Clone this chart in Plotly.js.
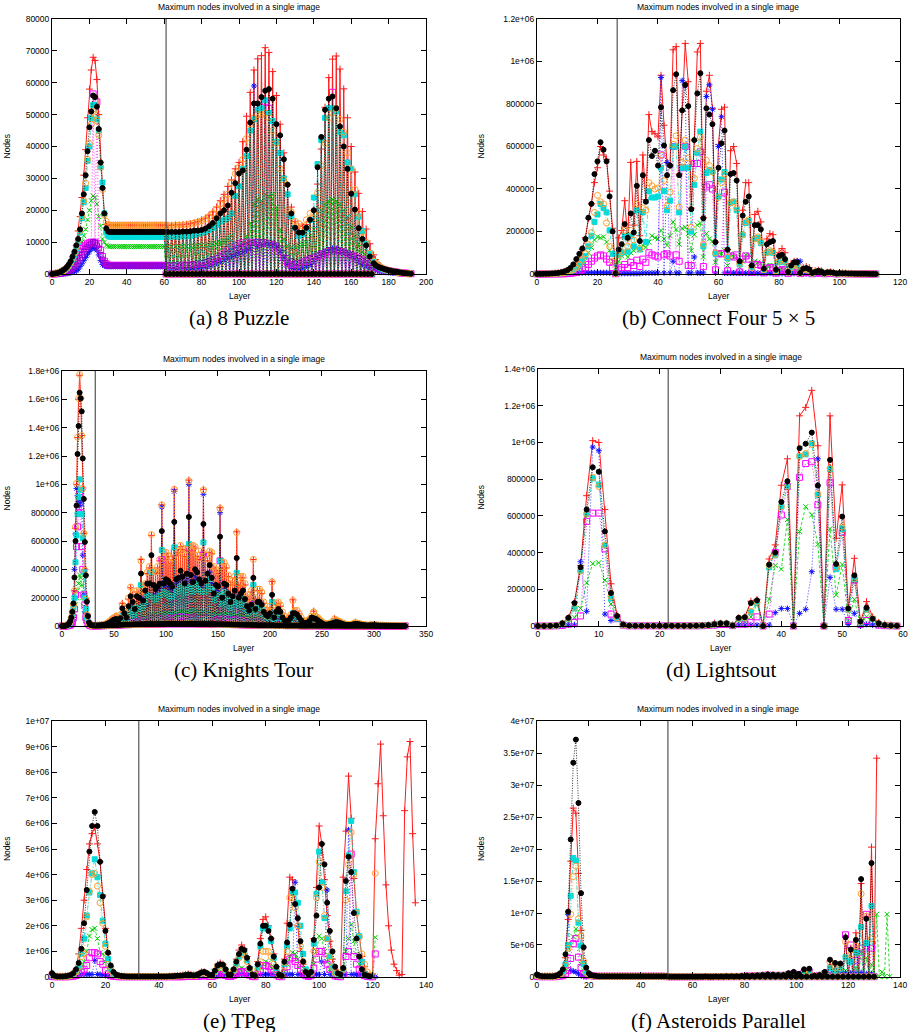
<!DOCTYPE html>
<html><head><meta charset="utf-8">
<script src="https://cdn.plot.ly/plotly-3.0.1.min.js"></script>
<style>html,body{margin:0;padding:0;background:#fff;}#chart{width:914px;height:1032px;}</style>
</head><body><div id="chart"></div>
<script>
// ================= DATA =================
const TITLE = "Maximum nodes involved in a single image";
const X_TITLE = "Layer";
const Y_TITLE = "Nodes";
const CAPTIONS = ["(a) 8 Puzzle", "(b) Connect Four 5 \u00d7 5", "(c) Knights Tour", "(d) Lightsout", "(e) TPeg", "(f) Asteroids Parallel"];
const VLINES = [61, 26.5, 32, 21.4, 32.5, 50.5];   // layer of the vertical marker line in each panel

const A_YTICKS = [0,10000,20000,30000,40000,50000,60000,70000,80000];
const A_YLABELS = ["0","10000","20000","30000","40000","50000","60000","70000","80000"];
const B_YTICKS = [0,200000,400000,600000,800000,1000000,1200000];
const B_YLABELS = ["0","200000","400000","600000","800000","1e+06","1.2e+06"];
const C_YTICKS = [0,200000,400000,600000,800000,1000000,1200000,1400000,1600000,1800000];
const C_YLABELS = ["0","200000","400000","600000","800000","1e+06","1.2e+06","1.4e+06","1.6e+06","1.8e+06"];
const D_YTICKS = [0,200000,400000,600000,800000,1000000,1200000,1400000];
const D_YLABELS = ["0","200000","400000","600000","800000","1e+06","1.2e+06","1.4e+06"];
const E_YTICKS = [0,1e6,2e6,3e6,4e6,5e6,6e6,7e6,8e6,9e6,1e7];
const E_YLABELS = ["0","1e+06","2e+06","3e+06","4e+06","5e+06","6e+06","7e+06","8e+06","9e+06","1e+07"];
const F_YTICKS = [0,5e6,1e7,1.5e7,2e7,2.5e7,3e7,3.5e7,4e7];
const F_YLABELS = ["0","5e+06","1e+07","1.5e+07","2e+07","2.5e+07","3e+07","3.5e+07","4e+07"];

// ---------- (a) 8 Puzzle, values in thousands ----------
// layers 0..60
const A_red_pre = [0.1,0.2,0.3,0.5,0.7,1.0,1.3,1.8,2.3,3.0, 4.0,5.2,6.5,9.0,13.5,18,24,31,39,49, 58,64,68,67,61,50,35,27,19,15.5,
 15.3,15.3,15.3,15.3,15.3,15.3,15.3,15.3,15.3,15.3, 15.3,15.3,15.3,15.3,15.3,15.3,15.3,15.3,15.3,15.3, 15.3,15.3,15.3,15.3,15.3,15.3,15.3,15.3,15.3,15.3,15.3];
const A_black_pre = [0,0.1,0.2,0.3,0.5,0.8,1.2,1.6,2.2,3.0, 4.0,5.5,7.0,9.0,11,14,19,25,31,38.5, 46,51,56,55.5,52.5,45.5,35,27,19,14.3,
 13.3,13.2,13.2,13.2,13.2,13.2,13.2,13.2,13.2,13.2, 13.2,13.2,13.2,13.2,13.2,13.2,13.2,13.2,13.2,13.2, 13.2,13.2,13.2,13.2,13.2,13.2,13.2,13.2,13.2,13.2,13.2];
const A_orange_pre = [0,0.1,0.2,0.3,0.5,0.7,1.0,1.4,2.0,2.7, 3.7,5.0,6.5,8.5,10.5,13.5,18,23,28.5,36, 41,47,51,50,48,43.5,33.5,26.5,18.5,16.5,
 15.5,15.3,15.3,15.3,15.3,15.3,15.3,15.3,15.3,15.3, 15.3,15.3,15.3,15.3,15.3,15.3,15.3,15.3,15.3,15.3, 15.3,15.3,15.3,15.3,15.3,15.3,15.3,15.3,15.3,15.3,15.3];
const A_cyan_pre = [0,0.1,0.2,0.3,0.4,0.6,0.9,1.3,1.8,2.5, 3.4,4.6,6.0,8.0,10,13,17.5,22.5,27,35.5, 40,49,53,53,48.5,45,33.5,28.7,19,13,
 12,11.7,11.7,11.7,11.7,11.7,11.7,11.7,11.7,11.7, 11.7,11.7,11.7,11.7,11.7,11.7,11.7,11.7,11.7,11.7, 11.7,11.7,11.7,11.7,11.7,11.7,11.7,11.7,11.7,11.7,11.7];
const A_green_pre = [0,0,0.1,0.2,0.3,0.4,0.6,0.8,1.1,1.5, 2.0,2.6,3.2,4.0,6.0,8.0,10,12,14,17, 20,23,24.5,24,22,18,15,11,10,9,
 8.7,8.6,8.6,8.6,8.6,8.6,8.6,8.6,8.6,8.6, 8.6,8.6,8.6,8.6,8.6,8.6,8.6,8.6,8.6,8.6, 8.6,8.6,8.6,8.6,8.6,8.6,8.6,8.6,8.6,8.6,8.6];
const A_magenta_pre = [0,0,0.1,0.1,0.2,0.3,0.4,0.6,0.9,1.3, 1.8,2.5,3.5,4.5,6.0,7.0,8.0,8.5,9.0,9.5, 9.8,10,56.5,10,54,9.5,7.5,5.5,4.0,3.2,
 2.8,2.7,2.7,2.7,2.7,2.7,2.7,2.7,2.7,2.7, 2.7,2.7,2.7,2.7,2.7,2.7,2.7,2.7,2.7,2.7, 2.7,2.7,2.7,2.7,2.7,2.7,2.7,2.7,2.7,2.7,2.7];
const A_blue_pre = [0,0,0,0,0,0,0.1,0.1,0.2,0.3, 0.4,0.6,0.8,1.0,1.5,2.3,3.2,4.2,5.2,6.2, 7.0,7.8,8.3,8.0,7.5,6.0,4.2,3.0,2.6,2.4,
 2.4,2.4,2.4,2.4,2.4,2.4,2.4,2.4,2.4,2.4, 2.4,2.4,2.4,2.4,2.4,2.4,2.4,2.4,2.4,2.4, 2.4,2.4,2.4,2.4,2.4,2.4,2.4,2.4,2.4,2.4,2.4];
const A_purple_pre = [0,0,0,0.1,0.1,0.2,0.3,0.4,0.6,0.9, 1.2,1.6,2.2,3.0,4.0,5.0,6.0,7.0,7.8,8.4, 9.0,9.5,10,9.8,9.0,8.0,6.0,4.5,3.5,2.8,
 2.6,2.6,2.6,2.6,2.6,2.6,2.6,2.6,2.6,2.6, 2.6,2.6,2.6,2.6,2.6,2.6,2.6,2.6,2.6,2.6, 2.6,2.6,2.6,2.6,2.6,2.6,2.6,2.6,2.6,2.6,2.6];
// even layers 62..192
const A_red_even = [15.3,15.3,15.4,15.4,15.5,15.6,15.8,16.1,16.5,17, 17.5,18.5,19.5,21,23,25,27.5,29.5,33,35,
 41.5,49.5,57,64,67.5,68.5,71,69.5,63.5,56, 47,38,28,21,16.5,15,15,15.5,17,20,
 28.2,39.2,52.3,61.6,67.4,68.4,64.3,58.1,49,40, 32,25.3,19.6,14.1,9.5,6,3.5,2.2,1.5,1.0, 0.7,0.5,0.3,0.2,0.1,0.05];
const A_black_even = [13.2,13.2,13.2,13.2,13.3,13.3,13.4,13.6,13.6,13.8, 14.2,15,16,17.5,19,20,21.5,25.5,28.5,31.5,
 32.5,39,47.5,53.5,53.5,55.5,57.5,58,55,47, 43.5,36,28,19,14.5,13,13,14.5,17,20,
 33.5,43,51.5,55,55.7,52,46.3,40,33,25.2, 20.2,14.4,11,9,5.5,3.4,2.4,1.9,1.5,1.2, 0.9,0.7,0.5,0.3,0.2,0.1];
const A_orange_even = [15.2,15.2,15.3,15.3,15.4,15.5,15.7,16,16.3,16.7, 17.2,18,19,20.3,22,23.5,25,28.5,31.5,33.5,
 36,42.5,47,49,50,50,50.5,49,45,41, 33,29.5,20,19.5,16.5,15.8,15,17,19,19,
 25.5,34,41,49,50.5,52,48.5,44.5,38,33, 26.5,19,13,10,6.5,4,2.8,2,1.5,1.1, 0.8,0.6,0.4,0.3,0.2,0.1];
const A_cyan_even = [11.7,11.7,11.7,11.8,11.8,11.9,12,12.2,12.5,12.8, 13.2,13.8,14.5,15.5,16.5,17,17.5,19,24.5,27.5,
 33,37,45,48.5,51.5,52,54.5,50.5,48,41.5, 38,30,25,18,14.5,12,12.5,14,17,24,
 34.5,42,49,52,52,51,44.5,43.5,35,33, 25,18,13.5,9.5,6.5,4,2.6,1.8,1.3,1, 0.7,0.5,0.4,0.3,0.2,0.1];
const A_green_even = [8.6,8.6,8.6,8.6,8.6,8.7,8.7,8.8,8.8,8.9, 9,9.2,9.4,9.6,10,10.5,11,12,8.5,9,
 10,12,16,22,23.5,23,25,24.5,25,21, 14,11,9,8.5,8.5,9,9.5,10,12,14,
 17,20,22,23,23.5,23,22,20,18,15, 12,9.5,7,5.5,4,3,2.2,1.6,1.2,0.9, 0.7,0.5,0.4,0.3,0.2,0.1];
const A_magenta_even = [2.7,2.7,2.7,2.7,2.8,2.8,2.9,3,3.1,3.3, 3.5,3.8,4.2,4.8,5.5,6.5,7.5,8.5,9,9.5,
 9.8,10,10,10,10,9.5,54,52,9,8.5, 7,5,3.5,3,3,3.2,3.5,4,4.5,5,
 5.5,6,6.5,7,57,7.5,7.2,7,6.5,6, 5.5,5,4.5,4,3.5,2.5,2,1.6,1.3,1, 0.8,0.6,0.4,0.3,0.2,0.1];
const A_blue_even = [1,1,1,1,1,1.2,1.4,1.6,1.8,2, 2.3,2.6,3,3.5,4,4.5,5,5.5,6,6.5,
 7,7.5,8,59,8.5,9,9.5,9.5,9,8.5, 7,5,3,2,1.5,1.5,2,2.5,3,4,
 5,6,7,7.5,8,8,7.5,7,6.5,6, 5,4,3,2.5,2,1.5,1,0.8,0.6,0.5, 0.4,0.3,0.2,0.1,0.1,0];
const A_purple_even = [2.6,2.6,2.6,2.6,2.6,2.7,2.8,3,3.2,3.5, 3.8,4.2,4.6,5,5.5,6,6.5,7,7.5,8,
 8.5,9,9.5,9.8,10,10,10,9.8,9.5,9, 8,6.5,5,4,3.5,3.5,4,4.5,5,5.5,
 6,6.5,7,7.5,7.5,7.5,7.2,7,6.5,6, 5.5,5,4.2,3.5,3,2.4,2,1.6,1.3,1, 0.8,0.6,0.4,0.3,0.2,0.1];
// odd layers 61..171 sit on the floor, then tails 173..191
const A_ZERO_RUN = [0,0,0,0,0,0,0,0,0,0, 0,0,0,0,0,0,0,0,0,0, 0,0,0,0,0,0,0,0,0,0, 0,0,0,0,0,0,0,0,0,0, 0,0,0,0,0,0,0,0,0,0, 0,0,0,0,0,0];
const A_red_oddtail = [4.5,2.8,1.8,1.2,0.85,0.6,0.4,0.25,0.15,0.08];
const A_black_oddtail = [2.8,2.1,1.7,1.3,1.0,0.8,0.6,0.4,0.25,0.15];
const A_orange_oddtail = [3.3,2.4,1.7,1.3,0.9,0.7,0.5,0.35,0.25,0.15];
const A_cyan_oddtail = [3.2,2.2,1.5,1.1,0.85,0.6,0.45,0.35,0.25,0.15];
const A_green_oddtail = [2.6,1.9,1.4,1.0,0.8,0.6,0.45,0.35,0.25,0.15];
const A_magenta_oddtail = [2.2,1.8,1.4,1.1,0.9,0.7,0.5,0.35,0.25,0.15];
const A_blue_oddtail = [1.2,0.9,0.7,0.55,0.45,0.35,0.25,0.15,0.1,0.05];
const A_purple_oddtail = [2.2,1.8,1.4,1.1,0.9,0.7,0.5,0.35,0.25,0.15];

// ---------- (b) Connect Four, layers 0..112, values in thousands ----------
const B_red = [0.5,0.8,1,1.5,2,3,4,6,8,11, 15,22,35,55,80,115,170,260,330,430, 500,600,560,540,390,215,5,170,205,345,
 165,525,230,530,180,560,350,750,670,660, 645,935,700,525,510,1055,1070,470,770,1085, 905,310,630,1045,1085,265,860,935,780,150,
 610,775,785,115,580,600,520,60,300,430, 430,40,280,295,245,25,165,190,185,20, 100,120,100,10,50,60,60,5,30,35,
 30,3,15,18,15,2,8,10,8,1, 5,5,4,3,3,2,2,1.5,1,1, 0.5,0.5,0.3];
const B_black = [0.3,0.5,0.8,1,1.5,2.5,3.5,5,8,12, 18,28,45,70,95,120,165,265,330,470, 530,620,585,530,365,200,3,115,140,235,
 170,285,195,415,155,465,340,630,555,580, 510,785,605,465,510,865,940,465,770,890, 790,305,630,850,945,262,780,750,705,150,
 500,615,675,115,470,475,440,60,275,340, 365,40,230,230,210,25,140,150,155,20, 85,90,70,10,40,55,55,5,25,28,
 22,5,10,15,12,3,8,8,6,2, 4,3,3,2,2,1.5,1,1,1,0.8, 0.5,0.3,0.2];
const B_orange = [0.2,0.3,0.5,0.7,1,1.5,2,3,4,6, 9,14,20,30,45,65,95,140,195,290, 370,340,330,240,130,60,2,90,105,205,
 130,205,160,330,120,310,300,430,415,400, 405,560,440,320,385,610,650,315,525,630, 545,220,450,590,645,140,535,510,480,100,
 360,430,470,80,335,340,310,50,185,245, 255,30,165,175,150,20,100,110,105,15, 60,70,60,8,30,40,40,4,20,22,
 18,3,10,12,10,2,6,6,5,1, 3,3,2,2,1.5,1,1,0.8,0.6,0.5, 0.3,0.2,0.1];
const B_cyan = [0.2,0.3,0.4,0.6,0.9,1.3,1.8,2.6,3.6,5, 8,12,18,28,40,60,85,130,180,245, 280,330,310,290,205,95,2,90,100,180,
 105,180,130,300,115,290,150,390,360,360, 365,500,390,300,345,600,600,290,500,600, 500,200,420,570,670,130,475,490,480,95,
 365,445,480,75,335,340,300,45,185,240, 250,30,165,170,145,18,100,105,100,12, 55,65,55,8,28,38,38,4,18,20,
 16,2,9,11,9,2,5,5,4,1, 3,2,2,1.5,1,1,0.8,0.6,0.5,0.4, 0.3,0.2,0.1];
const B_green = [0.1,0.2,0.3,0.4,0.6,0.8,1.2,1.6,2.2,3, 5,8,12,18,30,50,75,100,125,160, 175,170,175,150,110,60,1,60,85,95,
 80,100,110,125,115,135,125,150,180,170, 165,205,165,135,180,245,210,140,215,220, 190,110,185,230,240,80,190,165,155,55,
 100,95,110,40,95,80,80,30,60,90, 90,20,60,55,50,15,40,40,40,10, 25,28,25,6,15,18,15,3,8,10,
 8,2,5,6,5,1,3,3,2,1, 1.5,1.5,1,1,0.8,0.6,0.5,0.4,0.3,0.2, 0.2,0.1,0.1];
const B_magenta = [0,0,0.1,0.1,0.2,0.3,0.4,0.6,0.8,1, 2,3,5,8,12,20,30,45,60,75, 85,90,85,70,55,30,1,20,30,45,
 30,55,40,65,35,70,55,100,90,85, 80,560,90,95,85,600,90,60,500,600, 40,40,520,520,575,35,410,420,400,20,
 95,95,385,15,85,80,90,10,70,85, 70,8,45,45,40,5,25,30,30,4, 15,20,20,3,10,12,10,2,6,8,
 6,1,4,5,4,1,2,3,2,0.5, 1.5,1.5,1,1,0.8,0.6,0.5,0.4,0.3,0.2, 0.2,0.1,0.1];
const B_blue = [0,0,0,0,0,0,0,0,0.5,1, 2,3,4,5,5,6,6,6,6,6, 6,6,6,6,6,5,1,3,3,3,
 3,3,3,3,3,5,5,5,5,5, 5,925,5,525,5,60,5,5,910,885, 5,5,80,5,5,5,835,890,775,5,
 600,740,5,5,5,5,5,5,4,4, 4,4,4,4,4,4,4,4,3,3, 3,3,3,3,3,3,60,60,2,2,
 1,1,1,1,1,1,1,0.5,0.5,0.5, 0.5,0.5,0.3,0.3,0.3,0.2,0.2,0.2,0.1,0.1, 0.1,0,0];

// ---------- (c) Knights Tour, values in thousands ----------
// even layers 0,2,...,330
const C_red_even = [0,1,3,10,30,100,250,1000,1600,1610, 975,400,85,12,5,4,4,5,6,8, 10,15,25,35,50,60,70,60,80,160,
 120,80,190,270,220,170,240,230,470,240, 290,370,410,640,380,370,410,460,855,470, 510,490,440,470,965,500,520,560,540,490,
 530,1030,530,560,550,490,470,520,965,490, 460,520,510,410,390,370,835,410,440,410, 350,290,310,340,665,290,340,340,290,210,
 190,240,470,190,250,250,230,160,110,100, 130,315,100,150,160,140,90,60,45,55, 75,185,100,100,85,55,35,28,35,45,
 65,105,65,55,40,28,18,14,16,20, 28,52,38,32,25,18,14,11,9,11, 16,27,18,15,12,9,7,5,7,9,
 9,7,5,4.5,4.5,3.5,3.5,2.5,2.5,2, 2,1.5,1.5,1,1,1];
const C_black_even = [0,1,3,10,35,100,343,850,1412,1607, 1183,593,172,25,6,4,4,4,5,6, 8,12,18,25,35,45,50,40,55,125,
 90,60,140,210,170,120,210,200,370,180, 250,300,300,500,290,260,280,300,670,300, 330,320,300,280,735,330,340,390,350,300,
 370,770,360,310,400,380,330,300,720,320, 370,430,340,230,290,280,630,200,300,290, 230,170,210,250,480,200,230,250,190,140,
 110,150,340,120,170,170,150,100,80,70, 90,220,60,100,120,100,60,40,30,40, 60,90,90,80,60,40,25,20,25,35,
 60,55,50,40,30,20,12,10,12,15, 20,25,28,25,20,14,10,8,7,8, 12,15,14,12,9,7,5,4,5,6,
 6,5,4,3,3,3,2.5,2,2,1.5, 1.5,1,1,1,0.5,0.5];
const C_orange_even = [0,1,3,10,30,100,250,1007,1607,1607, 970,395,80,12,5,4,4,5,6,8, 10,15,25,35,50,60,70,60,80,150,
 130,90,200,275,230,180,250,240,460,250, 300,380,420,645,390,380,420,470,855,480, 520,500,450,480,965,510,530,570,550,500,
 540,1025,540,570,560,500,480,530,960,500, 470,530,520,420,400,380,830,420,450,420, 360,300,320,350,660,300,350,350,300,220,
 200,250,470,200,260,260,240,170,120,110, 140,310,110,160,170,150,100,70,50,60, 80,180,110,110,90,60,40,30,40,50,
 70,100,70,60,45,30,20,15,18,22, 30,50,40,35,28,20,15,12,10,12, 18,25,20,17,13,10,8,6,8,10,
 10,8,6,5,5,4,4,3,3,2.5, 2,2,1.5,1.5,1,1];
const C_cyan_even = [0,0.5,2,8,25,80,200,640,910,960, 620,200,60,15,5,3,3,3,4,5, 7,10,15,20,25,30,25,35,40,70,
 50,40,90,130,110,80,130,120,290,130, 170,220,210,380,200,180,200,220,535,240, 230,220,200,210,555,240,250,280,270,230,
 270,580,270,240,300,290,250,240,590,240, 280,330,260,180,220,220,460,160,240,230, 180,130,160,190,375,150,180,200,150,110,
 90,120,290,90,130,140,120,80,60,55, 70,170,50,80,90,80,50,35,25,30, 45,90,70,65,50,35,25,20,22,28,
 45,60,45,38,28,18,12,10,11,14, 18,30,24,20,16,12,9,7,6,7, 10,14,12,10,8,6,5,4,5,6,
 6,5,4,3,3,2.5,2.5,2,2,1.5, 1.5,1,1,1,0.5,0.5];
const C_green_even = [0,0,1,3,8,25,90,200,300,340, 200,80,20,5,2,1,1,1,2,2, 3,4,5,7,9,10,10,10,15,25,
 20,15,30,40,35,30,45,45,60,50, 60,70,70,80,75,70,80,85,90,85, 90,90,85,85,95,90,95,100,100,95,
 100,100,100,95,100,100,95,95,100,90, 90,95,90,85,85,80,90,80,80,80, 75,70,70,70,75,65,65,65,60,55,
 50,50,55,45,45,45,40,35,30,30, 30,35,25,25,25,25,20,18,15,15, 15,20,15,15,12,10,8,7,7,8,
 9,10,8,7,6,5,4,3,3,3, 4,5,4,4,3,3,2,2,2,2, 2,3,2,2,2,1.5,1,1,1,1,
 1,1,1,0.8,0.8,0.6,0.6,0.5,0.5,0.4, 0.4,0.3,0.3,0.2,0.2,0.1];
const C_magenta_even = [0,0,1,3,8,25,120,560,800,800, 400,150,40,10,2,1,1,1,1,2, 2,3,4,5,6,7,7,7,10,15,
 12,10,18,25,22,20,28,28,40,35, 40,45,45,55,50,45,50,55,470,55, 55,55,55,55,520,60,60,65,65,60,
 60,550,60,60,65,60,60,60,500,55, 55,60,55,50,50,50,460,45,50,50, 45,40,40,45,200,40,40,40,35,30,
 28,30,150,25,28,28,25,20,15,15, 15,60,12,12,12,10,8,6,5,5, 6,20,6,6,5,4,3,3,3,3,
 4,8,4,3,3,2,2,1.5,1.5,1.5, 2,3,2,2,1.5,1.5,1,1,1,1, 1,1.5,1,1,1,0.8,0.6,0.5,0.5,0.5,
 0.5,0.5,0.4,0.4,0.3,0.3,0.3,0.2,0.2,0.2, 0.2,0.1,0.1,0.1,0.1,0.1];
const C_blue_even = [0,0,0,1,5,30,400,970,880,870, 500,100,20,5,2,2,2,2,2,2, 3,3,4,5,6,6,6,6,8,10,
 10,8,12,15,14,12,15,15,200,20, 25,150,200,380,220,200,230,260,840,280, 300,280,260,250,950,300,320,350,330,280,
 330,1000,320,280,350,330,300,280,930,280, 320,380,300,200,250,240,800,180,260,250, 200,150,180,210,370,150,180,200,150,110,
 90,120,290,90,130,130,110,70,50,50, 60,90,40,60,70,60,40,25,20,25, 35,50,40,35,30,20,15,12,12,15,
 25,30,20,15,12,10,8,6,6,6, 8,10,8,6,5,4,3,3,2,2, 3,4,3,2,2,1.5,1,1,1,1,
 1,1,0.8,0.6,0.6,0.5,0.4,0.4,0.3,0.3, 0.3,0.2,0.2,0.1,0.1,0.1];
// odd layers 1..29 per series, then the shared floor of odd layers 31..329
const C_red_oddhead = [0.5,2,6,18,60,150,690,1330,1770,1345,655,195,30,8,4];
const C_black_oddhead = [0.5,2,6,20,60,160,600,1214,1647,1515,897,358,70,10,5];
const C_orange_oddhead = [0.5,2,6,18,60,150,700,1332,1776,1344,654,190,30,8,4];
const C_cyan_oddhead = [0.2,1,4,15,50,130,450,790,1035,790,380,120,30,8,3];
const C_green_oddhead = [0,0.5,2,5,15,50,150,250,360,290,140,40,10,3,1];
const C_magenta_oddhead = [0,0.5,2,5,15,60,220,700,930,560,220,60,20,5,1];
const C_blue_oddhead = [0,0,0.5,2,10,60,650,920,850,960,220,40,10,3,2];
const C_odd_floor = [3,3,3,3,4,4,5,5,6,6, 6,6,7,8,9,10,10,10,11,12, 12,12,13,13,13,14,14,14,15,15,
 15,15,15,15,16,16,16,16,16,16, 16,16,16,16,16,16,16,16,16,16, 15,15,15,15,15,14,14,14,14,13,
 13,13,12,12,12,11,11,10,10,10, 9,9,9,8,8,8,7,7,7,6, 6,6,6,5,5,5,5,4,4,4,
 4,4,3,3,3,3,3,3,3,2, 2,2,2,2,2,2,2,2,2,2, 2,2,2,1.5,1.5,1.5,1.5,1.5,1.5,1.5,
 1,1,1,1,1,1,1,1,1,1, 1,1,1,1,1,0.8,0.8,0.8,0.8,0.8, 0.6,0.6,0.6,0.6,0.5,0.5,0.5,0.5,0.5,0.5];

// ---------- (d) Lightsout, layers 0..59, values in thousands ----------
const D_red = [0,0,1,3,15,45,130,330,710,1010, 1000,635,230,60,10,2,1,1,1,1, 1,1,1,1,1,1,2,3,5,15,
 15,15,5,45,50,135,145,2,365,442, 767,911,5,1145,1191,1284,982,3,1145,478, 769,100,369,20,133,50,20,10,5,3];
const D_black = [0,0,1,3,15,45,125,320,635,865, 840,515,180,55,8,2,1,1,1,1, 1,1,1,1,1,1,2,3,5,10,
 15,15,3,45,48,125,140,0,335,400, 676,789,0,969,993,1054,765,0,905,338, 596,96,276,25,100,40,15,5,2,1];
const D_orange = [0,0,1,2,12,40,100,300,610,810, 760,440,160,45,6,2,1,1,1,1, 1,1,1,1,1,1,2,3,4,8,
 12,12,3,40,45,80,130,0,330,390, 650,760,0,925,940,990,720,0,860,320, 540,90,260,22,90,40,12,5,2,1];
const D_cyan = [0,0,1,2,12,38,95,300,610,805, 770,440,150,40,6,2,1,1,1,1, 1,1,1,1,1,1,2,3,4,8,
 12,12,3,38,42,75,125,0,320,385, 650,760,0,925,935,995,715,0,855,310, 530,88,255,20,88,38,12,5,2,1];
const D_magenta = [0,0,0,1,3,10,20,55,570,615, 615,420,65,40,5,1,1,1,1,1, 1,1,1,1,1,1,1,2,3,5,
 8,8,2,10,10,20,50,0,65,400, 605,760,0,810,885,895,660,0,780,320, 510,30,250,10,30,15,5,2,1,0];
const D_green = [0,0,0,1,5,15,45,95,235,340, 345,250,120,40,5,1,1,1,1,1, 1,1,1,1,1,1,1,2,3,5,
 8,8,2,20,25,50,120,0,145,330, 310,580,0,515,650,605,445,0,530,170, 335,30,145,5,50,20,5,2,1,0];
const D_blue = [0,0,0,0,1,5,5,350,80,975, 955,65,30,50,5,1,1,1,1,1, 1,1,1,1,1,1,1,1,2,3,
 5,5,2,5,5,5,5,0,5,73, 95,95,5,69,91,296,911,0,265,91, 91,9,69,0,9,5,2,1,0,0];

// ---------- (e) TPeg, values in millions ----------
const E_red = [0.15,0.05,0.03,0.03,0.03,0.04,0.05,0.08,0.15,0.3, 0.9,1.9,3.0,4.2,5.2,5.6,5.85,5.2,4.5,3.2,
 1.9,0.9,0.4,0.15,0.06,0.04,0.03,0.03,0.02,0.02, 0.02,0.02,0.02,0.02,0.02,0.02,0.02,0.02,0.02,0.02,
 0.02,0.02,0.02,0.02,0.03,0.03,0.04,0.05,0.06,0.08, 0.1,0.12,0.1,0.08,0.1,0.15,0.2,0.2,0.15,0.08,
 0.1,0.3,0.5,0.55,0.5,0.3,0.08,0.1,0.3,0.7, 1.05,1.25,1.1,0.8,0.4,0.1,0.05,0.6,1.5,2.25,
 2.35,2.0,1.5,0.9,0.4,0.1,0.05,0.7,2.1,3.9, 3.8,2.9,2.0,1.0,0.5,0.2,0.05,0.1,1.5,3.5,
 5.9,5.2,3.8,2.4,1.4,0.7,0.3,0.1,0.05,3.9, 5.7,7.85,6.2,3.85,2.5,1.6,0.8,0.4,0.1,0.05,
 0.05,5.4,7.55,9.1,6.3,3.6,2.0,1.05,0.5,0.25, 0.07,0.1,6.5,8.6,9.2,5.6,2.9];
const E_black = [0.15,0.05,0.02,0.02,0.02,0.03,0.05,0.08,0.15,0.3, 0.55,1.1,2.1,3.4,4.9,5.9,6.45,5.9,4.5,3.15,
 1.8,0.95,0.45,0.2,0.1,0.06,0.04,0.03,0.02,0.02, 0.02,0.02,0.02,0.02,0.02,0.02,0.02,0.02,0.02,0.02,
 0.02,0.02,0.02,0.02,0.03,0.03,0.04,0.05,0.05,0.06, 0.08,0.1,0.08,0.06,0.08,0.12,0.18,0.2,0.15,0.08,
 0.08,0.25,0.45,0.5,0.48,0.3,0.1,0.1,0.3,0.6, 0.9,1.1,1.05,0.75,0.35,0.1,0.05,0.5,1.3,2.0,
 2.0,1.8,1.5,0.8,0.4,0.1,0.05,0.6,1.35,2.05, 3.45,2.85,2.3,1.4,0.6,0.2,0.1,0.2,1.45,2.4,
 3.5,5.2,4.4,2.9,1.8,1.0,0.4,0.15,0.1,0.35, 3.75,4.7,4.1,2.5,1.5,0.8,0.3,0.1,0.05,0.03];
const E_cyan = [0.1,0.03,0.02,0.02,0.02,0.02,0.03,0.05,0.1,0.2, 0.4,0.9,1.5,2.4,3.3,4.05,4.6,3.9,3.2,2.2,
 1.3,0.7,0.3,0.1,0.06,0.04,0.03,0.02,0.02,0.02, 0.02,0.02,0.02,0.02,0.02,0.02,0.02,0.02,0.02,0.02,
 0.02,0.02,0.02,0.02,0.02,0.03,0.03,0.04,0.04,0.05, 0.06,0.08,0.06,0.05,0.06,0.1,0.15,0.17,0.12,0.06,
 0.06,0.2,0.4,0.45,0.42,0.25,0.08,0.08,0.25,0.5, 0.8,1.0,0.95,0.65,0.3,0.08,0.04,0.4,1.2,1.9,
 2.0,1.9,1.4,0.75,0.35,0.08,0.04,0.5,1.2,1.9, 3.3,3.3,2.9,2.0,0.9,0.3,0.1,0.2,1.3,3.25,
 4.9,3.7,2.3,1.5,0.8,0.4,0.15,0.08,0.05,0.3, 3.35,4.75,6.1,4.1,2.55,1.6,0.6,0.1,0.05,0.03];
const E_orange = [0.1,0.03,0.02,0.02,0.02,0.02,0.03,0.05,0.1,0.2, 0.4,0.8,0.9,2.35,3.35,4.0,4.05,3.55,2.9,2.1,
 1.2,0.5,0.25,0.1,0.06,0.04,0.03,0.02,0.02,0.02, 0.02,0.02,0.02,0.02,0.02,0.02,0.02,0.02,0.02,0.02,
 0.02,0.02,0.02,0.02,0.02,0.03,0.03,0.04,0.04,0.05, 0.06,0.08,0.06,0.05,0.06,0.1,0.15,0.17,0.12,0.06,
 0.06,0.2,0.4,0.45,0.42,0.25,0.08,0.08,0.25,0.5, 0.75,0.9,0.85,0.6,0.3,0.08,0.04,0.3,0.6,1.0,
 1.0,1.0,0.8,0.5,0.25,0.06,0.04,0.4,1.0,3.1, 3.1,2.7,2.0,1.2,0.6,0.2,0.1,0.15,1.0,3.1,
 4.5,3.5,2.4,1.5,0.8,0.4,0.15,0.08,0.05,0.3, 3.0,4.4,5.65,4.0,2.5,1.55,0.9,0.5,0.2,0.08, 0.05,4.05];
const E_green = [0.05,0.02,0.01,0.01,0.01,0.01,0.02,0.03,0.05,0.1, 0.2,0.35,0.6,1.0,1.6,1.85,1.9,1.5,0.95,0.9,
 0.6,0.3,0.12,0.06,0.04,0.03,0.02,0.02,0.01,0.01, 0.01,0.01,0.01,0.01,0.01,0.01,0.01,0.01,0.01,0.01,
 0.01,0.01,0.01,0.01,0.01,0.02,0.02,0.02,0.02,0.03, 0.03,0.04,0.03,0.03,0.03,0.05,0.08,0.08,0.06,0.03,
 0.03,0.08,0.15,0.18,0.16,0.1,0.03,0.03,0.1,0.2, 0.3,0.35,0.3,0.2,0.1,0.03,0.02,0.15,0.35,0.5,
 0.6,0.55,0.4,0.25,0.1,0.03,0.02,0.2,0.5,0.8, 0.95,0.9,0.7,0.45,0.2,0.08,0.03,0.05,0.5,1.0,
 1.6,1.5,1.0,0.6,0.3,0.12,0.05,0.03,0.02,0.15, 1.0,1.5,2.05,1.4,0.9,0.5,0.25,0.1,0.04,0.02, 0.02,1.55];
const E_magenta = [0.02,0.01,0.01,0.01,0.01,0.01,0.01,0.02,0.03,0.06, 0.12,0.2,0.3,0.45,0.75,0.95,0.95,0.9,0.6,0.5,
 0.25,0.12,0.05,0.03,0.02,0.01,0.01,0.01,0.01,0.01, 0.01,0.01,0.01,0.01,0.01,0.01,0.01,0.01,0.01,0.01,
 0.01,0.01,0.01,0.01,0.01,0.01,0.01,0.01,0.01,0.01, 0.02,0.02,0.02,0.02,0.02,0.03,0.04,0.05,0.04,0.02,
 0.02,0.05,0.08,0.1,0.09,0.06,0.02,0.02,0.06,0.12, 0.18,0.22,0.2,0.14,0.07,0.02,0.01,0.1,0.25,0.45,
 0.45,0.4,0.3,0.18,0.08,0.02,0.01,0.15,0.4,0.7, 0.75,0.6,0.45,0.3,0.15,0.05,0.02,0.05,0.35,0.7,
 1.0,1.0,0.7,0.5,0.3,0.1,0.04,0.02,0.01,0.1, 0.8,1.0,4.8,0.8,0.5,0.3,0.15,0.06,0.02,0.01, 0.01,0.9];
const E_blue = [0.02,0.01,0.01,0.01,0.01,0.01,0.01,0.02,0.03,0.05, 0.08,0.1,0.1,0.1,0.1,0.1,0.65,0.1,0.1,0.08,
 0.06,0.04,0.03,0.02,0.01,0.01,0.01,0.01,0.01,0.01, 0.01,0.01,0.01,0.01,0.01,0.01,0.01,0.01,0.01,0.01,
 0.01,0.01,0.01,0.01,0.01,0.01,0.01,0.01,0.01,0.01, 0.02,0.02,0.02,0.02,0.02,0.03,0.03,0.04,0.03,0.02,
 0.02,0.04,0.06,0.07,0.07,0.05,0.02,0.02,0.05,0.08, 0.1,0.1,0.1,0.08,0.05,0.02,0.01,0.06,0.1,0.1,
 0.1,0.1,0.1,0.08,0.05,0.02,0.01,0.06,0.1,0.1, 0.1,3.7,0.1,0.1,0.08,0.05,0.02,0.03,0.1,0.1,
 0.1,0.6,0.1,3.4,0.1,0.08,0.05,0.02,0.01,0.05, 0.1,5.75,0.1,0.1,0.1,0.08,0.05,0.03,0.02,0.01, 0.01,0.01];

// ---------- (f) Asteroids Parallel, values in millions ----------
const F_black = [0.4,0.2,0.1,0.1,0.1,0.1,0.1,0.15,0.3,0.6, 1.2,3.55,10.2,21.5,33.5,37.1,27.2,13.1,4.65,1.46,
 0.6,0.3,0.2,0.15,0.1,0.1,0.1,0.1,0.1,0.1, 0.1,0.1,0.1,0.1,0.1,0.1,0.1,0.1,0.1,0.1, 0.1,0.1,0.1,0.1,0.1,0.1,0.1,0.1,0.1,0.1,
 0.1,0.05,0.05,0.05,0.05,0.05,0.05,0.05,0.05,0.05, 0.05,0.05,0.05,0.05,0.05,0.08,0.05,0.05,0.05,0.08,
 0.05,0.08,0.05,0.1,0.05,0.1,0.05,0.1,0.05,0.15, 0.05,0.2,0.05,0.2,0.05,0.25,0.05,0.3,0.05,0.4,
 0.05,0.35,0.05,0.3,0.05,0.3,0.05,0.6,0.05,0.8, 0.05,0.5,0.05,1.2,0.05,1.3,0.05,0.2,0.05,0.3,
 0.05,0.8,0.05,2.7,0.05,2.2,0.05,2.1,0.05,6.2, 0.05,4.3,0.05,5.8,0.05,15.3,0.05,9.1,0.05,17.8, 0.05];
const F_red = [0.3,0.2,0.15,0.15,0.15,0.15,0.15,0.2,0.3,0.5, 0.8,3.0,9.0,18.1,26.4,25.6,16.2,7.3,2.5,0.8,
 0.4,0.25,0.2,0.15,0.15,0.15,0.15,0.15,0.15,0.15, 0.15,0.15,0.15,0.15,0.15,0.15,0.15,0.15,0.15,0.15, 0.15,0.15,0.15,0.15,0.15,0.15,0.15,0.15,0.15,0.15,
 0.1,0.05,0.05,0.05,0.05,0.05,0.05,0.05,0.05,0.05, 0.05,0.05,0.05,0.05,0.05,0.08,0.05,0.05,0.05,0.08,
 0.05,0.08,0.05,0.1,0.05,0.1,0.05,0.1,0.05,0.15, 0.05,0.2,0.05,0.2,0.05,0.25,0.05,0.3,0.05,0.4,
 0.05,0.35,0.05,0.3,0.05,0.3,0.05,0.5,0.05,0.6, 0.05,0.4,0.05,0.9,0.05,1.0,0.05,0.2,0.05,0.3,
 0.05,0.7,0.05,2.5,0.05,2.0,0.05,2.0,0.05,6.3, 0.05,4.5,0.05,6.9,0.05,14.6,0.05,9.5,0.05,20.3, 0.05,34.2];
// layers 20..109 shared by the smaller series
const F_floor = [0.3,0.2,0.15,0.1,0.1,0.1,0.1,0.1,0.1,0.1, 0.1,0.1,0.1,0.1,0.1,0.1,0.1,0.1,0.1,0.1, 0.1,0.1,0.1,0.1,0.1,0.1,0.1,0.1,0.1,0.1,
 0.05,0.05,0.05,0.05,0.05,0.05,0.05,0.05,0.05,0.05, 0.05,0.05,0.05,0.05,0.05,0.06,0.05,0.05,0.05,0.06,
 0.05,0.06,0.05,0.08,0.05,0.08,0.05,0.08,0.05,0.1, 0.05,0.15,0.05,0.15,0.05,0.2,0.05,0.25,0.05,0.3,
 0.05,0.25,0.05,0.25,0.05,0.25,0.05,0.4,0.05,0.5, 0.05,0.3,0.05,0.7,0.05,0.8,0.05,0.15,0.05,0.25];
const F_cyan_head = [0.2,0.1,0.1,0.1,0.1,0.1,0.1,0.1,0.2,0.4, 0.8,2.0,5.0,12.7,18.6,18.2,8.5,4.9,2.0,0.7];
const F_orange_head = [0.2,0.1,0.1,0.1,0.1,0.1,0.1,0.1,0.2,0.4, 0.7,1.8,4.5,9.8,15.7,17.3,9.1,6.4,2.5,0.7];
const F_magenta_head = [0.1,0.05,0.05,0.05,0.05,0.05,0.05,0.05,0.1,0.15, 0.2,0.5,1.0,2.9,5.2,6.0,3.1,1.5,0.5,0.2];
const F_green_head = [0.1,0.05,0.05,0.05,0.05,0.05,0.05,0.1,0.15,0.2, 0.3,1.0,4.5,5.0,6.3,7.5,5.0,2.0,0.6,0.2];
const F_blue_head = [0.1,0.05,0.05,0.05,0.05,0.05,0.05,0.1,0.15,0.3, 0.5,2.0,9.8,1.0,0.9,0.8,0.5,0.2,0.1,0.05];
const F_cyan_tail = [0.05,0.6,0.05,1.4,0.05,1.0,0.05,1.2,0.05,3.1, 0.05,2.4,0.05,3.8,0.05,7.8,0.05,5.3,0.05,11.1, 0.05];
const F_orange_tail = [0.05,0.5,0.05,2.3,0.05,1.5,0.05,1.5,0.05,5.5, 0.05,3.5,0.05,4.9,0.05,13.0,0.05,9.5,0.05,6.0, 0.05];
const F_magenta_tail = [0.05,0.5,0.05,0.8,0.05,0.8,0.05,1.0,0.05,6.6, 0.05,5.0,0.05,2.6,0.05,4.5,0.05,9.8,0.05,4.5, 0.05];
const F_green_tail = [0.05,0.3,0.05,0.5,0.05,0.5,0.05,0.6,0.05,1.0, 0.05,0.8,0.05,1.5,0.05,4.0,0.05,3.0,0.05,2.0, 0.05,9.8,0.05,0.8,0.05,9.8,0.05];
const F_blue_tail = [0.05,0.3,0.05,0.4,0.05,0.4,0.05,0.5,0.05,0.6, 0.05,0.6,0.05,0.6,0.05,0.7,0.05,0.5,0.05,0.5, 0.05];

// ================= BUILD =================
function alternateFrom61(pre, oddTail, even) {
  const odd = A_ZERO_RUN.concat(oddTail);
  const y = pre.slice();
  for (let i = 0; i < even.length; i++) { y.push(odd[i], even[i]); }
  return y;
}
function interleave(even, odd) {
  const y = [];
  for (let i = 0; i < even.length; i++) { y.push(even[i]); if (i < odd.length) y.push(odd[i]); }
  return y;
}
const PANELS = [
  { unit: 1e3, series: {
      red: alternateFrom61(A_red_pre, A_red_oddtail, A_red_even),
      green: alternateFrom61(A_green_pre, A_green_oddtail, A_green_even),
      blue: alternateFrom61(A_blue_pre, A_blue_oddtail, A_blue_even),
      magenta: alternateFrom61(A_magenta_pre, A_magenta_oddtail, A_magenta_even),
      purple: alternateFrom61(A_purple_pre, A_purple_oddtail, A_purple_even),
      cyan: alternateFrom61(A_cyan_pre, A_cyan_oddtail, A_cyan_even),
      orange: alternateFrom61(A_orange_pre, A_orange_oddtail, A_orange_even),
      black: alternateFrom61(A_black_pre, A_black_oddtail, A_black_even) },
    xr: [0, 200], dx: 20, yr: [0, 80000], yt: A_YTICKS, yl: A_YLABELS,
    xd: [0.0569, 0.4661], yd: [0.7345, 0.9816] },
  { unit: 1e3, series: { red: B_red, green: B_green, blue: B_blue, magenta: B_magenta, cyan: B_cyan, orange: B_orange, black: B_black },
    xr: [0, 120], dx: 20, yr: [0, 1.2e6], yt: B_YTICKS, yl: B_YLABELS,
    xd: [0.5875, 0.9847], yd: [0.7345, 0.9816] },
  { unit: 1e3, series: {
      red: interleave(C_red_even, C_red_oddhead.concat(C_odd_floor)),
      green: interleave(C_green_even, C_green_oddhead.concat(C_odd_floor)),
      blue: interleave(C_blue_even, C_blue_oddhead.concat(C_odd_floor)),
      magenta: interleave(C_magenta_even, C_magenta_oddhead.concat(C_odd_floor)),
      cyan: interleave(C_cyan_even, C_cyan_oddhead.concat(C_odd_floor)),
      orange: interleave(C_orange_even, C_orange_oddhead.concat(C_odd_floor)),
      black: interleave(C_black_even, C_black_oddhead.concat(C_odd_floor)) },
    xr: [0, 350], dx: 50, yr: [0, 1.8e6], yt: C_YTICKS, yl: C_YLABELS,
    xd: [0.0678, 0.4661], yd: [0.3934, 0.6405] },
  { unit: 1e3, series: { red: D_red, green: D_green, blue: D_blue, magenta: D_magenta, cyan: D_cyan, orange: D_orange, black: D_black },
    xr: [0, 60], dx: 10, yr: [0, 1.4e6], yt: D_YTICKS, yl: D_YLABELS,
    xd: [0.5886, 0.9880], yd: [0.3934, 0.6424] },
  { unit: 1e6, series: { red: E_red, green: E_green, blue: E_blue, magenta: E_magenta, cyan: E_cyan, orange: E_orange, black: E_black },
    xr: [0, 140], dx: 20, yr: [0, 1e7], yt: E_YTICKS, yl: E_YLABELS,
    xd: [0.0569, 0.4661], yd: [0.0533, 0.3013] },
  { unit: 1e6, series: {
      red: F_red,
      green: F_green_head.concat(F_floor, F_green_tail),
      blue: F_blue_head.concat(F_floor, F_blue_tail),
      magenta: F_magenta_head.concat(F_floor, F_magenta_tail),
      cyan: F_cyan_head.concat(F_floor, F_cyan_tail),
      orange: F_orange_head.concat(F_floor, F_orange_tail),
      black: F_black },
    xr: [0, 140], dx: 20, yr: [0, 4e7], yt: F_YTICKS, yl: F_YLABELS,
    xd: [0.5875, 0.9847], yd: [0.0533, 0.3013] }
];

const STYLE = {
  red:     { color: '#ff1a1a', symbol: 'cross-thin-open', dash: 'solid',            size: 5, lw: 1 },
  green:   { color: '#00d000', symbol: 'x-thin-open',     dash: '3px,2px',          size: 5, lw: 0.8 },
  blue:    { color: '#1010ff', symbol: 'asterisk-open',   dash: '1px,2px',          size: 5, lw: 0.8 },
  magenta: { color: '#ff00ff', symbol: 'square-open',     dash: '1px,2px',          size: 6, lw: 0.8 },
  purple:  { color: '#9400d3', symbol: 'square-open',     dash: '1px,2px',          size: 5, lw: 0.8 },
  cyan:    { color: '#00dcdc', symbol: 'square',          dash: '4px,2px,1px,2px',  size: 5, lw: 0.8 },
  orange:  { color: '#ffa030', symbol: 'circle-open',     dash: '1px,2px',          size: 6, lw: 0.7 },
  black:   { color: '#000000', symbol: 'circle',          dash: '1px,1.5px',        size: 5, lw: 0.8 }
};
const ORDER = ['red', 'green', 'blue', 'magenta', 'purple', 'cyan', 'orange', 'black'];
const FONT = 'Liberation Sans, Arial, Helvetica, sans-serif';

const traces = [], shapes = [], annotations = [];
const layout = {
  width: 914, height: 1032, margin: { l: 0, r: 0, t: 0, b: 0 },
  paper_bgcolor: '#ffffff', plot_bgcolor: '#ffffff', showlegend: false,
  font: { family: FONT, size: 8.5, color: '#000' }
};
const H = 1032, W = 914;
PANELS.forEach((p, k) => {
  const n = k === 0 ? '' : String(k + 1);
  const xa = 'x' + n, ya = 'y' + n;
  ORDER.forEach(name => {
    const vals = p.series[name];
    if (!vals) return;
    const s = STYLE[name];
    const layers = vals.map((_, i) => i);
    traces.push({
      type: 'scatter', mode: 'lines+markers', x: layers, y: vals.map(v => v * p.unit),
      xaxis: xa, yaxis: ya, cliponaxis: false, hoverinfo: 'skip', showlegend: false,
      line: { color: s.color, width: s.lw, dash: s.dash },
      marker: { symbol: s.symbol, size: s.size, color: s.color, line: { color: s.color, width: 1 } }
    });
  });
  const common = {
    showline: true, mirror: 'ticks', linecolor: '#000', linewidth: 1,
    ticks: 'inside', ticklen: 5, tickwidth: 1, tickcolor: '#000',
    showgrid: false, zeroline: false, fixedrange: true,
    tickfont: { family: FONT, size: 8.5, color: '#000' }
  };
  layout['xaxis' + n] = Object.assign({}, common, {
    domain: p.xd, range: p.xr, anchor: ya, tickmode: 'linear', tick0: 0, dtick: p.dx, tickformat: 'd'
  });
  layout['yaxis' + n] = Object.assign({}, common, {
    domain: p.yd, range: p.yr, anchor: xa, tickmode: 'array', tickvals: p.yt, ticktext: p.yl
  });
  shapes.push({ type: 'line', xref: xa, yref: ya + ' domain', x0: VLINES[k], x1: VLINES[k], y0: 0, y1: 1,
    line: { color: '#333', width: 1 } });
  const cx = (p.xd[0] + p.xd[1]) / 2;
  const topPx = (1 - p.yd[1]) * H, botPx = (1 - p.yd[0]) * H;
  const colLeft = k % 2 === 0 ? 7 : 481;
  annotations.push({ text: TITLE, xref: 'paper', yref: 'paper', x: cx, y: 1 - (topPx - 12) / H,
    showarrow: false, xanchor: 'center', yanchor: 'middle', font: { family: FONT, size: 8.5, color: '#000' } });
  annotations.push({ text: X_TITLE, xref: 'paper', yref: 'paper', x: cx, y: 1 - (botPx + 22) / H,
    showarrow: false, xanchor: 'center', yanchor: 'middle', font: { family: FONT, size: 8.5, color: '#000' } });
  annotations.push({ text: Y_TITLE, xref: 'paper', yref: 'paper', x: colLeft / W, y: (p.yd[0] + p.yd[1]) / 2,
    textangle: -90, showarrow: false, xanchor: 'center', yanchor: 'middle', font: { family: FONT, size: 8.5, color: '#000' } });
  annotations.push({ text: CAPTIONS[k], xref: 'paper', yref: 'paper', x: cx, y: 1 - (botPx + 44) / H,
    showarrow: false, xanchor: 'center', yanchor: 'middle', font: { family: 'Liberation Serif, Times New Roman, serif', size: 21, color: '#000' } });
});
layout.shapes = shapes;
layout.annotations = annotations;
Plotly.newPlot('chart', traces, layout, { staticPlot: true, displayModeBar: false });
</script>
</body></html>
